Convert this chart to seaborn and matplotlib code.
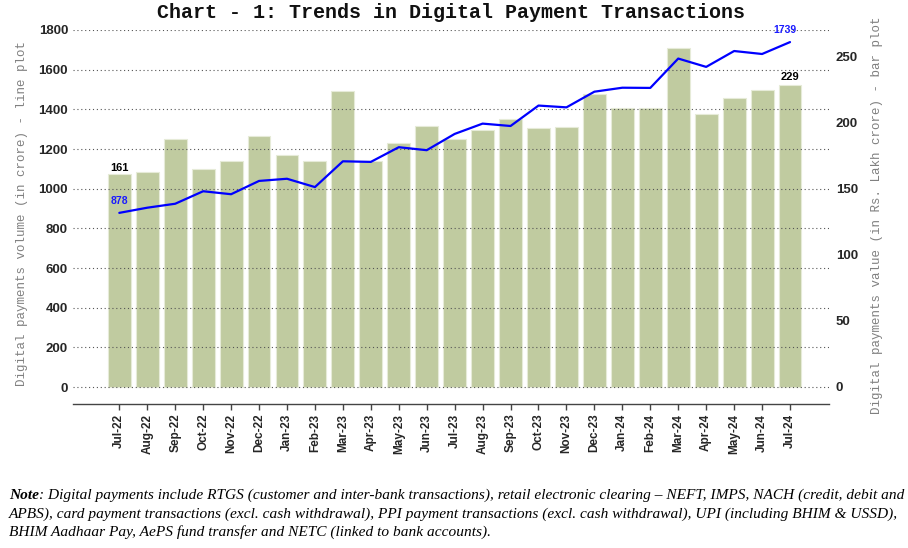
import numpy as np
import pandas as pd
import matplotlib
matplotlib.use("Agg")
import matplotlib.pyplot as plt
import seaborn as sns

months = ["Jul-22", "Aug-22", "Sep-22", "Oct-22", "Nov-22", "Dec-22", "Jan-23",
          "Feb-23", "Mar-23", "Apr-23", "May-23", "Jun-23", "Jul-23", "Aug-23",
          "Sep-23", "Oct-23", "Nov-23", "Dec-23", "Jan-24", "Feb-24", "Mar-24",
          "Apr-24", "May-24", "Jun-24", "Jul-24"]
value_lakh_crore = [161, 163, 188, 165, 171, 190, 176, 171, 224, 171, 185, 198, 188,
                    195, 203, 196, 197, 222, 211, 211, 257, 207, 219, 225, 229]
volume_crore = [878, 904, 924, 987, 972, 1039, 1050, 1008, 1138, 1135, 1209, 1194, 1276,
                1328, 1316, 1419, 1410, 1489, 1509, 1508, 1656, 1614, 1694, 1679, 1739]
left_ticks = [0, 200, 400, 600, 800, 1000, 1200, 1400, 1600, 1800]
right_ticks = [0, 50, 100, 150, 200, 250]

title = "Chart - 1: Trends in Digital Payment Transactions"
left_label = "Digital payments volume (in crore) - line plot"
right_label = "Digital payments value (in Rs. Lakh crore) - bar plot"
note_lines = [
    ": Digital payments include RTGS (customer and inter-bank transactions), retail electronic clearing \u2013 NEFT, IMPS, NACH (credit, debit and",
    "APBS), card payment transactions (excl. cash withdrawal), PPI payment transactions (excl. cash withdrawal), UPI (including BHIM & USSD),",
    "BHIM Aadhaar Pay, AePS fund transfer and NETC (linked to bank accounts).",
]

sns.set_theme(style="white")
plt.rcParams['font.family'] = ['Liberation Sans', 'DejaVu Sans']

W, H = 908, 548
fig = plt.figure(figsize=(W / 100, H / 100), dpi=100)
ax_bar = fig.add_axes([73 / W, 1 - 404 / H, (829 - 73) / W, (404 - 30) / H])

df = pd.DataFrame({"month": months, "value": value_lakh_crore, "volume": volume_crore})

sns.barplot(data=df, x="month", y="value", ax=ax_bar, color="#c0cba0", saturation=1,
            width=0.82, edgecolor="#e6ebd8", linewidth=0.8)

ax_line = ax_bar.twinx()
sns.lineplot(x=df.index, y=df["volume"], ax=ax_line, color="#0000ff", linewidth=1.6)

# bar axis on the right
ax_bar.yaxis.tick_right()
ax_bar.set_ylim(-12.88, 270.45)
ax_bar.set_yticks(right_ticks)
ax_bar.tick_params(axis="y", which="both", left=False, right=False, labelleft=False,
                   labelright=True, length=0, pad=5, labelsize=9.5)
for t in ax_bar.get_yticklabels():
    t.set_fontweight("bold")
ax_bar.set_xlim(-1.657, 25.395)
ax_bar.set_xlabel("")
ax_bar.set_ylabel("")
ax_bar.tick_params(axis="x", bottom=True, length=4, width=1, color="#444444",
                   labelsize=8.5, pad=3, rotation=90)
for t in ax_bar.get_xticklabels():
    t.set_fontweight("bold")
for s in ["top", "left", "right"]:
    ax_bar.spines[s].set_visible(False)
ax_bar.spines["bottom"].set_color("#444444")
ax_bar.spines["bottom"].set_linewidth(1)

# line axis on the left
ax_line.yaxis.tick_left()
ax_line.set_ylim(-85.7, 1800)
ax_line.set_yticks(left_ticks)
ax_line.tick_params(axis="y", which="both", left=False, right=False, labelleft=True,
                    labelright=False, length=0, pad=3.6, labelsize=9.5)
for t in ax_line.get_yticklabels():
    t.set_fontweight("bold")
ax_line.set_ylabel("")
ax_line.grid(axis="y", linestyle=(0, (1, 2.5)), color="#555555", linewidth=0.8)
ax_line.set_axisbelow(True)
for s in ax_line.spines.values():
    s.set_visible(False)

# data labels
ax_bar.annotate(str(value_lakh_crore[0]), (0, value_lakh_crore[0]), xytext=(0, 1),
                textcoords="offset points", ha="center", va="bottom",
                fontsize=8, fontweight="bold", color="black")
ax_bar.annotate(str(value_lakh_crore[-1]), (len(months) - 1, value_lakh_crore[-1]),
                xytext=(0, 2), textcoords="offset points", ha="center", va="bottom",
                fontsize=8, fontweight="bold", color="black")
ax_line.annotate(str(volume_crore[0]), (0, volume_crore[0]), xytext=(0, 5),
                 textcoords="offset points", ha="center", va="bottom",
                 fontsize=7.5, fontweight="bold", color="#1a1aff")
ax_line.annotate(str(volume_crore[-1]), (len(months) - 1, volume_crore[-1]), xytext=(-4, 5),
                 textcoords="offset points", ha="center", va="bottom",
                 fontsize=7.5, fontweight="bold", color="#1a1aff")

# titles & axis labels
fig.text(0.497, 1 - 13 / H, title, fontsize=14.4, fontweight="bold",
         family="Liberation Mono", ha="center", va="center", color="#111111")
fig.text(22 / W, 1 - 214 / H, left_label, rotation=90, fontsize=9,
         family="Liberation Mono", color="#808080", ha="center", va="center")
fig.text(877 / W, 1 - 215 / H, right_label, rotation=90, fontsize=9,
         family="Liberation Mono", color="#808080", ha="center", va="center")

# note
note_fs = 11.1
note_font = dict(family="Liberation Serif", style="italic", fontsize=note_fs, color="black")
ys = [495.7, 514, 531.7]
t0 = fig.text(9 / W, 1 - ys[0] / H, "Note", fontweight="bold", va="center", ha="left", **note_font)
fig.canvas.draw()
bb = t0.get_window_extent()
fig.text(bb.x1 / W, 1 - ys[0] / H, note_lines[0], va="center", ha="left", **note_font)
fig.text(9 / W, 1 - ys[1] / H, note_lines[1], va="center", ha="left", **note_font)
fig.text(9 / W, 1 - ys[2] / H, note_lines[2], va="center", ha="left", **note_font)

fig.savefig("out.png", dpi=100)
